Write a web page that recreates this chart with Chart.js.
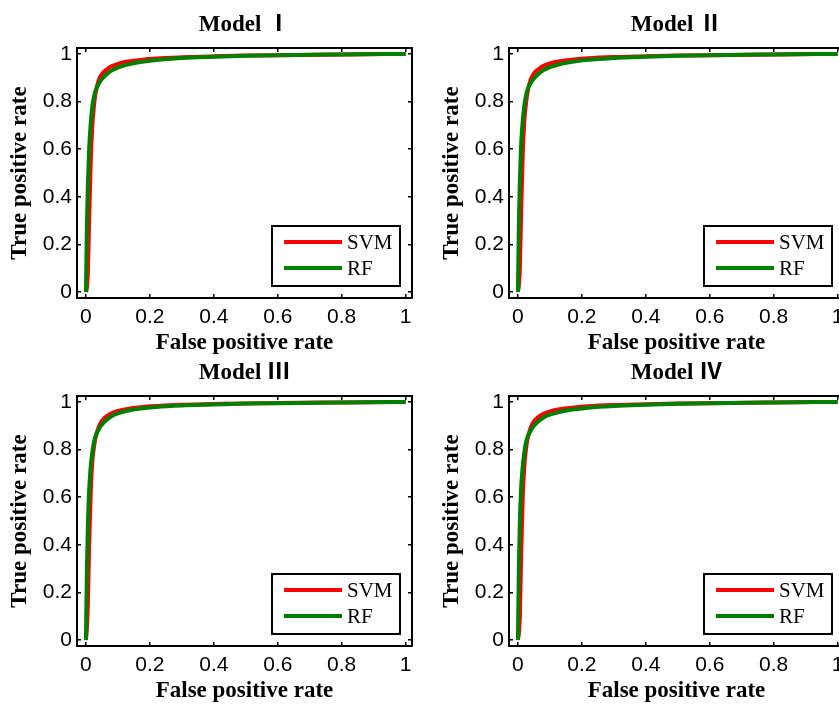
<!DOCTYPE html>
<html>
<head>
<meta charset="utf-8">
<script src="https://cdn.jsdelivr.net/npm/chart.js@4.4.1/dist/chart.umd.min.js"></script>
<style>
  html, body { margin: 0; padding: 0; background: #fff; overflow: hidden; width: 839px; height: 704px; }
  canvas { position: absolute; }
</style>
</head>
<body>
<canvas id="c1" width="425" height="360" style="left:0px;top:0px"></canvas>
<canvas id="c2" width="425" height="360" style="left:432px;top:0px"></canvas>
<canvas id="c3" width="425" height="360" style="left:0px;top:348px"></canvas>
<canvas id="c4" width="425" height="360" style="left:432px;top:348px"></canvas>
<script>
// shared false positive rate grid
const fprGrid = [0, 0.003, 0.006, 0.01, 0.015, 0.02, 0.025, 0.03, 0.04, 0.05, 0.065, 0.08, 0.1, 0.13, 0.17, 0.22, 0.3, 0.4, 0.5, 0.6, 0.8, 1];

const modelTitles = ['Model Ⅰ', 'Model Ⅱ', 'Model Ⅲ', 'Model Ⅳ'];
const seriesNames = ['SVM', 'RF'];
const axisTicks = [0, 0.2, 0.4, 0.6, 0.8, 1];

// true positive rates
const svmTpr1 = [0, 0.02, 0.08, 0.3, 0.55, 0.7, 0.78, 0.835, 0.89, 0.915, 0.935, 0.948, 0.958, 0.968, 0.975, 0.981, 0.986, 0.99, 0.993, 0.995, 0.998, 1];
const rfTpr1  = [0, 0.28, 0.45, 0.6, 0.71, 0.78, 0.82, 0.845, 0.875, 0.895, 0.915, 0.93, 0.943, 0.955, 0.966, 0.975, 0.983, 0.988, 0.992, 0.995, 0.998, 1];
const svmTpr2 = [0, 0.03, 0.1, 0.33, 0.58, 0.72, 0.79, 0.84, 0.893, 0.918, 0.937, 0.95, 0.96, 0.969, 0.976, 0.982, 0.987, 0.99, 0.993, 0.995, 0.998, 1];
const rfTpr2  = [0, 0.3, 0.47, 0.62, 0.72, 0.785, 0.825, 0.85, 0.878, 0.897, 0.917, 0.932, 0.945, 0.957, 0.967, 0.976, 0.983, 0.988, 0.992, 0.995, 0.998, 1];
const svmTpr3 = [0, 0.05, 0.15, 0.4, 0.62, 0.75, 0.81, 0.85, 0.895, 0.92, 0.94, 0.952, 0.962, 0.971, 0.978, 0.983, 0.988, 0.991, 0.994, 0.996, 0.998, 1];
const rfTpr3  = [0, 0.3, 0.48, 0.63, 0.73, 0.79, 0.83, 0.855, 0.885, 0.905, 0.925, 0.94, 0.952, 0.963, 0.972, 0.979, 0.985, 0.989, 0.993, 0.995, 0.998, 1];
const svmTpr4 = [0, 0.03, 0.1, 0.35, 0.6, 0.73, 0.8, 0.845, 0.893, 0.918, 0.938, 0.95, 0.96, 0.969, 0.976, 0.982, 0.987, 0.99, 0.993, 0.995, 0.998, 1];
const rfTpr4  = [0, 0.32, 0.5, 0.64, 0.73, 0.79, 0.83, 0.852, 0.88, 0.9, 0.92, 0.935, 0.947, 0.958, 0.968, 0.976, 0.983, 0.988, 0.992, 0.995, 0.998, 1];

const svmSets = [svmTpr1, svmTpr2, svmTpr3, svmTpr4];
const rfSets = [rfTpr1, rfTpr2, rfTpr3, rfTpr4];

const serif = "'Liberation Serif', 'Times New Roman', 'Noto Sans CJK SC', serif";
const sans = "'Liberation Sans', Arial, sans-serif";
Chart.defaults.color = '#000';

// matlab style legend box inside the axes
const boxLegend = {
  id: 'boxLegend',
  afterDatasetsDraw(chart) {
    const { ctx, chartArea: a } = chart;
    const w = 128, h = 60;
    const left = a.right - 12 - w, top = a.bottom - 12 - h;
    ctx.save();
    ctx.fillStyle = '#fff';
    ctx.fillRect(left, top, w, h);
    ctx.strokeStyle = '#000';
    ctx.lineWidth = 2;
    ctx.strokeRect(left, top, w, h);
    chart.data.datasets.forEach((ds, i) => {
      const y = top + 16 + i * 26;
      ctx.strokeStyle = ds.borderColor;
      ctx.lineWidth = 4;
      ctx.beginPath();
      ctx.moveTo(left + 12, y);
      ctx.lineTo(left + 70, y);
      ctx.stroke();
      ctx.fillStyle = '#000';
      ctx.font = '21px ' + serif;
      ctx.textBaseline = 'middle';
      ctx.fillText(ds.label, left + 75, y + 1);
    });
    ctx.restore();
  }
};

function pts(ys) {
  return fprGrid.map((x, i) => ({ x: x, y: ys[i] }));
}

function setTicks(s) {
  s.ticks = axisTicks.map(v => ({ value: v }));
}

function frameAxis(pos, min, max, extra) {
  return Object.assign({
    type: 'linear',
    position: pos,
    min: min,
    max: max,
    afterBuildTicks: setTicks,
    border: { display: true, color: '#000', width: 2 },
    grid: { drawOnChartArea: false, drawTicks: true, tickLength: -4, color: '#000', lineWidth: 1.5 },
    ticks: { display: false }
  }, extra);
}

function makeChart(id, k) {
  new Chart(document.getElementById(id), {
    type: 'line',
    data: {
      datasets: [
        { label: seriesNames[0], data: pts(svmSets[k]), borderColor: '#ff0000', borderWidth: 4, pointRadius: 0, cubicInterpolationMode: 'monotone', order: 1 },
        { label: seriesNames[1], data: pts(rfSets[k]), borderColor: '#008000', borderWidth: 4, pointRadius: 0, cubicInterpolationMode: 'monotone', order: 0 }
      ]
    },
    options: {
      responsive: false,
      animation: false,
      devicePixelRatio: 1,
      layout: { padding: 0 },
      plugins: {
        legend: { display: false },
        tooltip: { enabled: false },
        title: {
          display: true,
          text: modelTitles[k],
          fullSize: false,
          font: { family: serif, size: 23, weight: 'bold' },
          color: '#000',
          padding: { top: 11.2, bottom: 9.2 }
        }
      },
      scales: {
        x: frameAxis('bottom', -0.028, 1.02, {
          afterFit: s => { s.height = 62; },
          ticks: { display: true, padding: 10.4, font: { family: sans, size: 21 }, callback: v => String(v) },
          title: { display: true, text: 'False positive rate', font: { family: serif, size: 23, weight: 'bold' }, padding: { top: 0, bottom: 3.2 } }
        }),
        y: frameAxis('left', -0.025, 1.025, {
          afterFit: s => { s.width = 77; },
          ticks: { display: true, padding: 9, font: { family: sans, size: 21 }, callback: v => String(v) },
          title: { display: true, text: 'True positive rate', font: { family: serif, size: 23, weight: 'bold' }, padding: { top: 6.2, bottom: 0 } }
        }),
        x2: frameAxis('top', -0.028, 1.02, { afterFit: s => { s.height = 0; } }),
        y2: frameAxis('right', -0.025, 1.025, { afterFit: s => { s.width = 13; } })
      }
    },
    plugins: [boxLegend]
  });
}

makeChart('c1', 0);
makeChart('c2', 1);
makeChart('c3', 2);
makeChart('c4', 3);
</script>
</body>
</html>
